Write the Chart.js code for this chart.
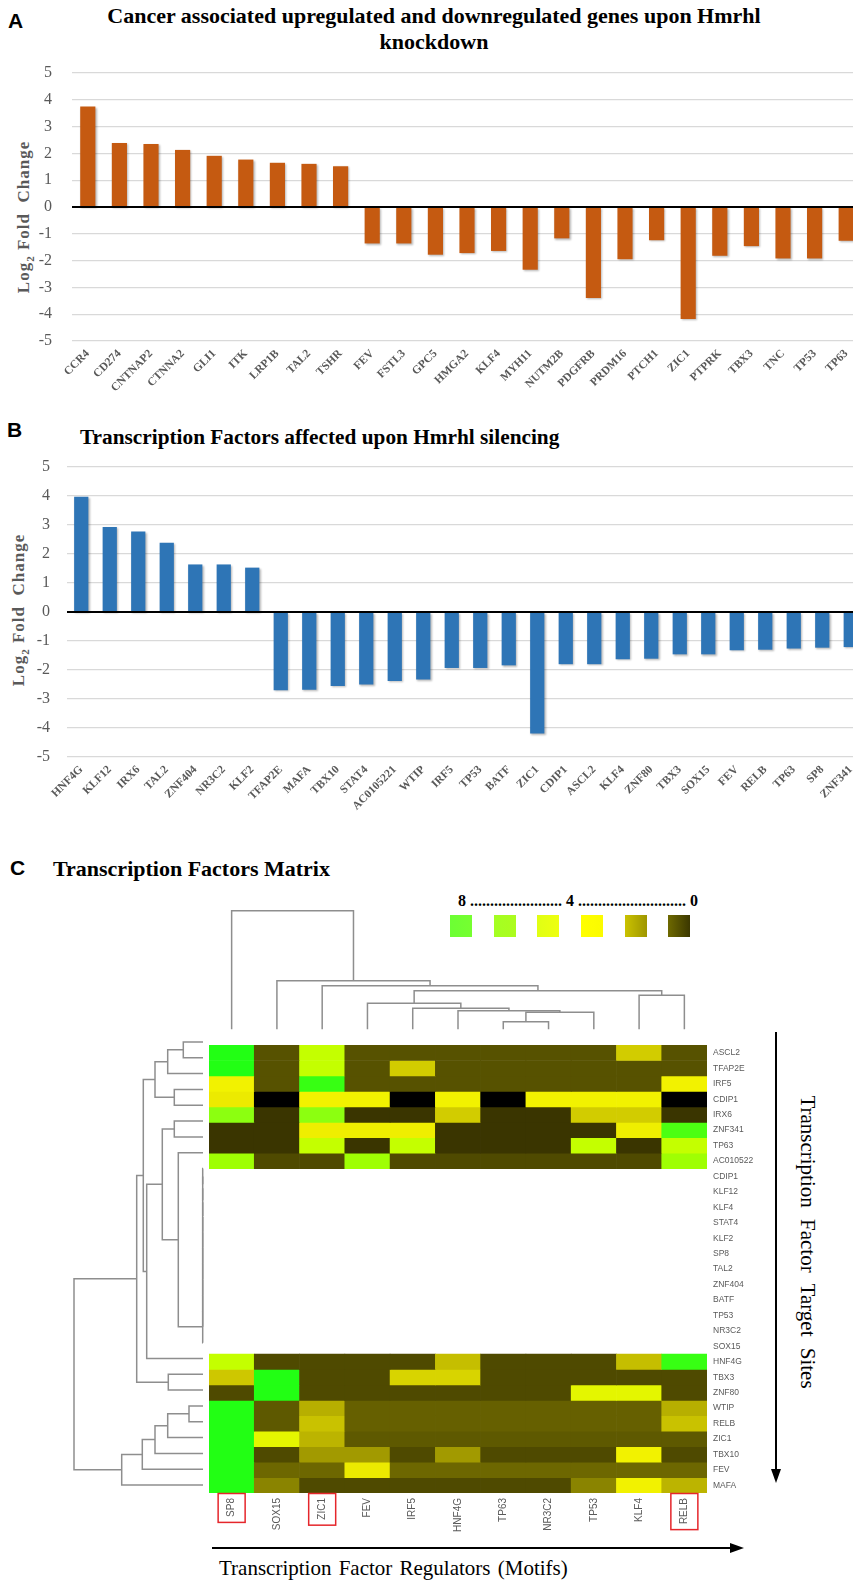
<!DOCTYPE html>
<html><head><meta charset="utf-8">
<script src="https://cdn.jsdelivr.net/npm/chart.js@4.4.1/dist/chart.umd.min.js"></script>
<style>
html,body{margin:0;padding:0;background:#fff;}
body{width:853px;height:1583px;overflow:hidden;position:relative;font-family:'Liberation Serif','Times New Roman',serif;}
canvas{position:absolute;}
.plabel{position:absolute;font:bold 21px 'Liberation Sans',Arial,sans-serif;line-height:24px;color:#000;}
.title{position:absolute;font-weight:bold;font-size:21px;line-height:26px;color:#000;white-space:nowrap;}
.ytitle{position:absolute;font-weight:bold;font-size:17px;line-height:20px;color:#595959;white-space:pre;letter-spacing:1px;transform:translate(-50%,-50%) rotate(-90deg);}
.ytitle sub{font-size:11px;}
.rtitle{position:absolute;font-size:21px;line-height:24px;color:#000;white-space:nowrap;word-spacing:6px;transform:translate(-50%,-50%) rotate(90deg);}
.btitle{position:absolute;font-size:21px;line-height:24px;color:#000;white-space:nowrap;word-spacing:2px;}
.legtext{position:absolute;font-weight:bold;font-size:16px;line-height:20px;white-space:nowrap;}
.sq{position:absolute;width:22px;height:22px;}
</style></head><body>

<div class="plabel" style="left:8px;top:9px;">A</div>
<div class="title" style="left:0;width:868px;text-align:center;top:3px;font-size:22px;">Cancer associated upregulated and downregulated genes upon Hmrhl<br>knockdown</div>
<div class="ytitle" style="left:27px;top:217px;">Log<sub>2</sub> Fold  Change</div>
<canvas id="chartA" width="870" height="351" style="left:0;top:43px;"></canvas>

<div class="plabel" style="left:7px;top:418px;">B</div>
<div class="title" style="left:80px;top:424px;font-size:21.3px;">Transcription Factors affected upon Hmrhl silencing</div>
<div class="ytitle" style="left:22px;top:610px;">Log<sub>2</sub> Fold  Change</div>
<canvas id="chartB" width="870" height="372" style="left:0;top:440px;"></canvas>

<div class="plabel" style="left:10px;top:856px;">C</div>
<div class="title" style="left:53px;top:856px;font-size:22px;">Transcription Factors Matrix</div>
<div class="legtext" style="left:458px;top:891px;">8 ....................... 4 ........................... 0</div>
<div id="legendSquares"></div>

<canvas id="dendroTop" width="498" height="127" style="left:209px;top:905px;"></canvas>
<canvas id="dendroLeft" width="145" height="459" style="left:60px;top:1034px;"></canvas>
<canvas id="heat" width="558" height="504" style="left:209px;top:1034px;"></canvas>

<div class="rtitle" style="left:808px;top:1242px;">Transcription Factor Target Sites</div>
<div class="btitle" style="left:219px;top:1556px;">Transcription Factor Regulators (Motifs)</div>

<svg width="853" height="1583" style="position:absolute;left:0;top:0;pointer-events:none;">
  <line x1="776" y1="1032" x2="776" y2="1472" stroke="#000" stroke-width="2"/>
  <polygon points="776,1483 771,1469 781,1469" fill="#000"/>
  <line x1="212" y1="1548" x2="733" y2="1548" stroke="#000" stroke-width="2"/>
  <polygon points="744,1548 730,1543 730,1553" fill="#000"/>
</svg>

<script>
// ---------------- DATA ----------------
const genesA = ['CCR4','CD274','CNTNAP2','CTNNA2','GLI1','ITK','LRP1B','TAL2','TSHR','FEV','FSTL3','GPC5','HMGA2','KLF4','MYH11','NUTM2B','PDGFRB','PRDM16','PTCH1','ZIC1','PTPRK','TBX3','TNC','TP53','TP63'];
const log2fcA = [3.75,2.39,2.35,2.13,1.91,1.77,1.65,1.61,1.52,-1.36,-1.36,-1.78,-1.72,-1.64,-2.34,-1.17,-3.40,-1.95,-1.24,-4.18,-1.82,-1.46,-1.92,-1.92,-1.26];

const tfsB = ['HNF4G','KLF12','IRX6','TAL2','ZNF404','NR3C2','KLF2','TFAP2E','MAFA','TBX10','STAT4','AC0105221','WTIP','IRF5','TP53','BATF','ZIC1','CDIP1','ASCL2','KLF4','ZNF80','TBX3','SOX15','FEV','RELB','TP63','SP8','ZNF341'];
const log2fcB = [3.97,2.93,2.78,2.39,1.64,1.64,1.53,-2.70,-2.68,-2.55,-2.50,-2.38,-2.33,-1.93,-1.93,-1.84,-4.19,-1.80,-1.80,-1.63,-1.61,-1.46,-1.46,-1.32,-1.30,-1.26,-1.23,-1.21];

const yTickValues = [-5,-4,-3,-2,-1,0,1,2,3,4,5];

const motifColumns = ['SP8','SOX15','ZIC1','FEV','IRF5','HNF4G','TP63','NR3C2','TP53','KLF4','RELB'];
const highlightedMotifs = ['SP8','ZIC1','RELB'];
const targetRows = ['ASCL2','TFAP2E','IRF5','CDIP1','IRX6','ZNF341','TP63','AC010522','CDIP1','KLF12','KLF4','STAT4','KLF2','SP8','TAL2','ZNF404','BATF','TP53','NR3C2','SOX15','HNF4G','TBX3','ZNF80','WTIP','RELB','ZIC1','TBX10','FEV','MAFA'];
// score per target row (0..8); null = no score (white)
const targetScores = [
  [8,2.1,6,2.1,2.1,2.1,2.1,2.1,2.1,4.5,2.1],
  [8,2.1,6,2.1,4.5,2.1,2.1,2.1,2.1,2.1,2.1],
  [5,2.1,7.8,2.1,2.1,2.1,2.1,2.1,2.1,2.1,5],
  [4.9,0,5,5,0,5,0,5,5,5,0],
  [7,1,7,1,1,4.5,1,1,4.5,4.5,1],
  [1,1,4.95,4.95,4.95,1,1,1,1,4.95,7.6],
  [1,1,6,1,6,1,1,1,6,1,6],
  [6.6,1.9,1.9,6.6,1.9,1.9,1.9,1.9,1.9,1.9,6.6],
  null,null,null,null,null,null,null,null,null,null,null,null,
  [6,1.9,1.9,1.9,1.9,4.2,1.9,1.9,1.9,4.2,7.8],
  [4.4,8,1.9,1.9,4.6,4.6,1.9,1.9,1.9,1.9,1.9],
  [1.9,8,1.9,1.9,1.9,1.9,1.9,1.9,5.3,5.3,1.9],
  [8,2.3,3.9,2.5,2.5,2.5,2.5,2.5,2.5,2.5,3.9],
  [8,2.3,4.3,2.5,2.5,2.5,2.5,2.5,2.5,2.5,4.3],
  [8,5.3,4,2.3,2.3,2.3,2.3,2.3,2.3,2.3,2.3],
  [8,1.9,3.5,3.5,1.9,3.5,1.9,1.9,1.9,5,1.9],
  [8,2.6,2.6,4.9,2.6,2.6,2.6,2.6,2.6,2.6,2.6],
  [8,3,1.9,1.9,1.9,1.9,1.9,1.9,3,5,4]
];
// hierarchical clustering (linkage: [childA, childB, height]); ids >= n refer to earlier merges
const motifLinkage = [[6,7,7.6],[11,8,17],[5,12,18.6],[4,13,21],[3,14,26],[9,10,34],[15,16,38.6],[2,17,43.6],[1,18,48.6],[0,19,118.6]];
const targetLinkage = [
  [0,1,19.7],[29,2,35.3],[3,4,28.7],[30,31,48],[5,6,28.7],
  [8,9,0.3],[34,10,0.3],[35,11,0.3],[36,12,0.3],[37,13,0.3],[38,14,0.3],[39,15,0.3],[40,16,0.3],[41,17,0.3],[42,18,0.3],[43,19,0.3],
  [7,44,24.7],[33,45,40.7],[46,20,56.3],[32,47,59.7],[21,22,34.7],[48,49,66.3],
  [23,24,14],[51,25,35.3],[52,26,48],[53,27,60.7],[54,28,81.3],[50,55,129]
];
const legendColors = [['#6cff34','#76ff30'],['#a4ff22','#acfc1e'],['#e0ff14','#eeff10'],['#ffff00','#fbfb00'],['#cac200','#9e9600'],['#6e6900','#3b3700']];

// ---------------- HELPERS ----------------
const SERIF = "'Liberation Serif','Times New Roman',serif";
const SANS = "'Liberation Sans',Arial,sans-serif";
const colorStops = [[0,'#000000'],[1,'#3a3500'],[1.9,'#4f4a00'],[2.1,'#575200'],[2.5,'#666000'],[3,'#8a8400'],[3.5,'#a29a00'],[4,'#bcb400'],[4.5,'#d2cc00'],[5,'#f2f200'],[6,'#c4ff00'],[6.5,'#a4ff00'],[7,'#8cff10'],[8,'#22ff14']];
function hex2rgb(h){return [1,3,5].map(i=>parseInt(h.substr(i,2),16));}
function scoreColor(v){
  for(let i=1;i<colorStops.length;i++){
    if(v<=colorStops[i][0]){
      const [v0,c0]=colorStops[i-1],[v1,c1]=colorStops[i];
      const t=(v-v0)/(v1-v0), a=hex2rgb(c0), b=hex2rgb(c1);
      return 'rgb('+a.map((x,k)=>Math.round(x+(b[k]-x)*t)).join(',')+')';
    }
  }
  return colorStops[colorStops.length-1][1];
}

const barShadow={id:'barShadow',
  beforeDatasetsDraw(c){const x=c.ctx;x.save();x.shadowColor='rgba(0,0,0,0.28)';x.shadowBlur=2;x.shadowOffsetX=1.2;x.shadowOffsetY=1.2;},
  afterDatasetsDraw(c){c.ctx.restore();}};
const zeroLine={id:'zeroLine',afterDatasetsDraw(c){
  const {ctx,chartArea:a,scales:{y}}=c;const py=y.getPixelForValue(0);
  ctx.save();ctx.strokeStyle='#000';ctx.lineWidth=2.2;ctx.beginPath();ctx.moveTo(a.left,py);ctx.lineTo(a.right,py);ctx.stroke();ctx.restore();}};

function barChart(id,labels,values,color,cfg){
  return new Chart(document.getElementById(id),{
    type:'bar',
    data:{labels,datasets:[{data:values,backgroundColor:color,barPercentage:cfg.barPct,categoryPercentage:1,borderWidth:0}]},
    options:{
      responsive:false,animation:false,devicePixelRatio:1,
      layout:{padding:{top:cfg.padTop,right:cfg.padRight,left:0,bottom:0}},
      plugins:{legend:{display:false},tooltip:{enabled:false},title:{display:false}},
      scales:{
        x:{grid:{display:false,drawTicks:false},border:{display:false},
          ticks:{autoSkip:false,maxRotation:45,minRotation:45,padding:cfg.xPad,color:'#595959',font:{family:SERIF,size:11.5,weight:'bold'}},
          afterFit(s){s.height=cfg.xH;}},
        y:{min:-5,max:5,
          afterBuildTicks(s){s.ticks=yTickValues.map(v=>({value:v}));},
          grid:{color:'#d9d9d9',lineWidth:1.3,drawTicks:false},border:{display:false},
          ticks:{padding:cfg.yPad,color:'#595959',font:{family:SERIF,size:16}},
          afterFit(s){s.width=cfg.yW;}}
      }
    },
    plugins:[barShadow,zeroLine]
  });
}

barChart('chartA',genesA,log2fcA,'#c55a11',{barPct:0.48,padTop:30,padRight:8,xH:53,yW:72,xPad:6,yPad:20});
barChart('chartB',tfsB,log2fcB,'#2e75b6',{barPct:0.5,padTop:27,padRight:5,xH:55,yW:67,xPad:6,yPad:17});

// ---------------- DENDROGRAMS ----------------
function dendroSegments(linkage,n){
  const pos=[],ht=[],segs=[];
  for(let i=0;i<n;i++){pos[i]=i;ht[i]=0;}
  linkage.forEach(([a,b,h],k)=>{
    segs.push([[pos[a],ht[a]],[pos[a],h],[pos[b],h],[pos[b],ht[b]]]);
    pos[n+k]=(pos[a]+pos[b])/2;ht[n+k]=h;
  });
  return segs;
}
const dStyle={showLine:true,pointRadius:0,borderColor:'#8e8e8e',borderWidth:1.5,clip:false,tension:0};
const commonOpts={responsive:false,animation:false,devicePixelRatio:1,layout:{padding:0},plugins:{legend:{display:false},tooltip:{enabled:false}}};

new Chart(document.getElementById('dendroTop'),{
  type:'scatter',
  data:{datasets:dendroSegments(motifLinkage,motifColumns.length).map(s=>Object.assign({data:s.map(([p,h])=>({x:p,y:h}))},dStyle))},
  options:Object.assign({},commonOpts,{scales:{
    x:{type:'linear',min:-0.5,max:motifColumns.length-0.5,display:false},
    y:{type:'linear',min:-2.7,max:124.3,display:false}}})
});
new Chart(document.getElementById('dendroLeft'),{
  type:'scatter',
  data:{datasets:dendroSegments(targetLinkage,targetRows.length).map(s=>Object.assign({data:s.map(([p,h])=>({x:h,y:p}))},dStyle))},
  options:Object.assign({},commonOpts,{scales:{
    x:{type:'linear',min:-2,max:143,reverse:true,display:false},
    y:{type:'linear',min:-0.5,max:targetRows.length-0.5,reverse:true,display:false}}})
});

// ---------------- HEATMAP ----------------
const nRows=targetRows.length;
const heatDatasets=targetScores.map((row,r)=>({
  data:motifColumns.map((c,j)=>row==null?null:[nRows-1-r,nRows-r]),
  backgroundColor:motifColumns.map((c,j)=>row==null?'rgba(0,0,0,0)':scoreColor(row[j])),
  borderWidth:0,barPercentage:1,categoryPercentage:1,grouped:false,yAxisID:'y'
}));
const COL_FONT={family:SANS,size:10};
const redBoxes={id:'redBoxes',afterDraw(c){
  const {ctx,chartArea:a,scales:{x}}=c;
  ctx.save();ctx.font=COL_FONT.size+'px '+COL_FONT.family;ctx.strokeStyle='#e5262b';ctx.lineWidth=1.5;
  highlightedMotifs.forEach(m=>{
    const i=motifColumns.indexOf(m);const px=x.getPixelForValue(i);
    const w=ctx.measureText(m).width;
    ctx.strokeRect(px-13.5,a.bottom+0.5,27,w+10);
  });
  ctx.restore();}};
new Chart(document.getElementById('heat'),{
  type:'bar',
  data:{labels:motifColumns,datasets:heatDatasets},
  options:Object.assign({},commonOpts,{scales:{
    x:{type:'category',grid:{display:false,drawTicks:false},border:{display:false},
       ticks:{autoSkip:false,minRotation:90,maxRotation:90,padding:5,color:'#5a5a5a',font:COL_FONT},
       afterFit(s){s.height=45;}},
    y:{type:'linear',min:0,max:nRows,display:false},
    yr:{type:'category',labels:targetRows,position:'right',offset:true,
       grid:{display:false,drawTicks:false},border:{display:false},
       ticks:{autoSkip:false,padding:6,color:'#5a5a5a',font:{family:SANS,size:8.5}},
       afterFit(s){s.width=60;}}
  }}),
  plugins:[redBoxes]
});

// legend squares
const sqLeft=[450,494,537,581,625,668];
const ls=document.getElementById('legendSquares');
legendColors.forEach((c,i)=>{
  const d=document.createElement('div');d.className='sq';
  d.style.left=sqLeft[i]+'px';d.style.top='915px';
  d.style.background='linear-gradient(to right,'+c[0]+','+c[1]+')';
  ls.appendChild(d);
});
</script>
</body></html>
